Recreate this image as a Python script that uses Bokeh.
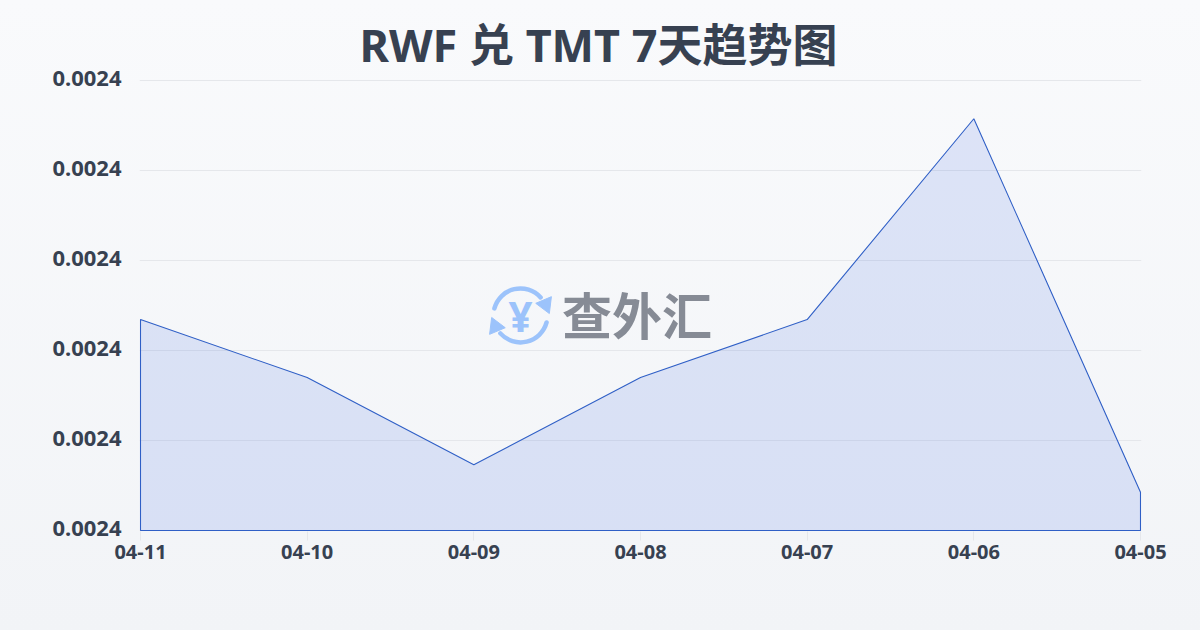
from bokeh.plotting import figure
from bokeh.models import FixedTicker, Range1d, PrintfTickFormatter, LinearAxis
from bokeh.core.properties import value
from bokeh.embed import file_html
from bokeh.resources import INLINE

title_text = "RWF 兑 TMT 7天趋势图"
dates = ["04-11", "04-10", "04-09", "04-08", "04-07", "04-06", "04-05"]
rates = [0.0023975, 0.0023872, 0.0023717, 0.0023872, 0.0023975, 0.0024332, 0.0023668]
y_ticks = [0.00236, 0.002376, 0.002392, 0.002408, 0.002424, 0.00244]
brand = "查外汇"

INK = "#374151"
LATIN_CJK = "'Noto Sans', 'Noto Sans CJK SC'"
Y0, Y1 = y_ticks[0], y_ticks[-1]
xs = list(range(len(dates)))
span_x = xs[-1]
span_y = Y1 - Y0
# spare pixels round the frame so the outline is not clipped and labels can sit 2px higher
pad_x = span_x / 1000
pad_y = span_y / 450

p = figure(width=1200, height=630, output_backend="svg", toolbar_location=None,
           x_range=Range1d(-pad_x, span_x + pad_x), y_range=Range1d(Y0 - pad_y, Y1 + 4 * pad_y),
           min_border_left=139, min_border_right=59, min_border_top=76, min_border_bottom=99)
p.styles = {"position": "fixed", "left": "0", "top": "0",
            "background": "linear-gradient(180deg, #f9fafc 0%, #f2f4f7 100%)"}
p.background_fill_color = None
p.border_fill_color = None
p.outline_line_color = None

p.title.text = title_text
p.title.align = "left"
p.title.offset = 220
p.title.standoff = 4
p.title.text_font = LATIN_CJK
p.title.text_font_size = "45px"
p.title.text_font_style = "bold"
p.title.text_color = INK

p.xgrid.visible = False
p.ygrid.ticker = FixedTicker(ticks=y_ticks)
p.ygrid.grid_line_color = "#e5e7eb"
p.ygrid.grid_line_width = 1

p.xaxis.ticker = FixedTicker(ticks=xs)
p.xaxis.major_label_overrides = dict(zip(xs, dates))
p.xaxis.axis_line_color = None
p.xaxis.major_tick_line_color = "#e5e7eb"
p.xaxis.major_tick_in = 0
p.xaxis.major_tick_out = 9
p.xaxis.minor_tick_line_color = None
p.xaxis.major_label_text_font = "Noto Sans"
p.xaxis.major_label_text_font_style = "bold"
p.xaxis.major_label_text_font_size = "20px"
p.xaxis.major_label_text_color = INK
p.xaxis.major_label_standoff = 4

p.left = []
p.extra_y_ranges = {"labels": Range1d(Y0 - 3 * pad_y, Y1 + 2 * pad_y)}
y_axis = LinearAxis(y_range_name="labels", ticker=FixedTicker(ticks=y_ticks),
                    formatter=PrintfTickFormatter(format="%.4f"))
y_axis.axis_line_color = None
y_axis.major_tick_line_color = None
y_axis.major_tick_in = 0
y_axis.major_tick_out = 0
y_axis.minor_tick_line_color = None
y_axis.major_label_text_font = "Noto Sans"
y_axis.major_label_text_font_style = "bold"
y_axis.major_label_text_font_size = "22px"
y_axis.major_label_text_color = INK
y_axis.major_label_standoff = 18
p.add_layout(y_axis, "left")

px = [xs[0]] + xs + [xs[-1]]
py = [Y0] + rates + [Y0]
p.patch(px, py, fill_color="#2a58e0", fill_alpha=0.13, line_color="#2f5fc6", line_width=1.1)

# watermark, placed in data terms derived from the axis ranges
cx = span_x * 0.38
cy = Y0 + span_y * 0.478
BLUE = "#9cc3fb"
p.arc([cx], [cy], radius=[27], radius_units="screen", start_angle=[0.73], end_angle=[2.88],
      line_color=BLUE, line_width=4.5, line_cap="round")
p.arc([cx], [cy], radius=[27], radius_units="screen", start_angle=[3.87], end_angle=[6.02],
      line_color=BLUE, line_width=4.5, line_cap="round")
p.scatter([span_x * 0.405], [Y0 + span_y * 0.5022], marker="triangle", size=17, angle=[-2.74],
          fill_color=BLUE, line_color=BLUE)
p.scatter([span_x * 0.355], [Y0 + span_y * 0.4533], marker="triangle", size=17, angle=[0.40],
          fill_color=BLUE, line_color=BLUE)
p.text([cx], [cy], text=["¥"], text_align="center", text_baseline="middle",
       text_font=value("Noto Sans"), text_font_style="bold", text_font_size="42px", text_color=BLUE)
p.text([span_x * 0.4965], [Y0 + span_y * 0.484], text=[brand], text_align="center", text_baseline="middle",
       text_font=value("Noto Sans CJK SC"), text_font_style="bold", text_font_size="50px",
       text_color="#868b95")

open("out.html", "w").write(file_html(p, INLINE))
